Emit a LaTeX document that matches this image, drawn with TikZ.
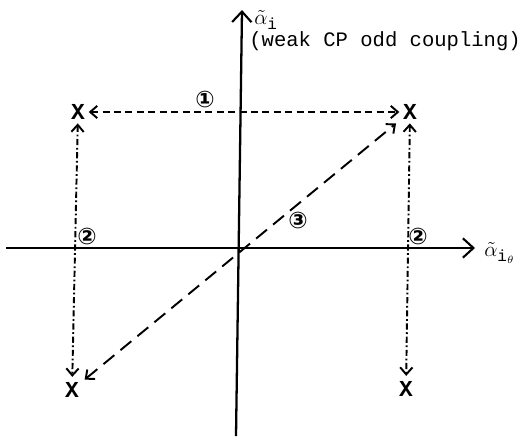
\documentclass[tikz,border=0pt]{standalone}
\usepackage{fontspec}
\setmonofont{Liberation Mono}
\newfontfamily\circfont{DejaVu Sans}
\usetikzlibrary{arrows.meta}
\tikzset{
  axis/.style={line width=1.3pt, -{Straight Barb[length=6pt,width=11pt,line width=1.2pt]}},
  crossmark/.style={inner sep=0pt, font=\ttfamily\bfseries\fontsize{13}{13}\selectfont},
  tip/.style={{Straight Barb[length=4pt,width=7pt,line width=1.1pt]}-{Straight Barb[length=4pt,width=7pt,line width=1.1pt]}},
  lblA/.style={line width=1.1pt, dash pattern=on 4pt off 2.5pt, tip},
  lblB/.style={line width=1.1pt, dash pattern=on 3.5pt off 1.5pt on 1pt off 1.5pt, tip},
  lblC/.style={line width=1.1pt, dash pattern=on 8pt off 4.5pt, tip},
  circnum/.style={font=\circfont\bfseries\fontsize{13}{13}\selectfont, inner sep=0pt},
  axlab/.style={anchor=west, inner sep=0pt, font=\fontsize{13}{15}\selectfont}
}
\begin{document}
\begin{tikzpicture}[x=0.02cm, y=-0.02cm]
  \useasboundingbox (0,0) rectangle (526,439);
  % axes
  \coordinate (xs) at (6,248);
  \coordinate (xe) at (475,248);
  \coordinate (ys) at (236,436);
  \coordinate (ye) at (242,10);
  \draw[axis] (xs) -- (xe);
  \draw[axis] (ys) -- (ye);
  \node[axlab] (ylab) at (254,20) {$\tilde{\alpha}_{\mathtt{i}}$};
  \node[anchor=west, inner sep=0pt, font=\ttfamily\fontsize{11.7}{13}\selectfont] (ynote) at (249,41) {(weak CP odd coupling)};
  \node[axlab] (xlab) at (484,253) {$\tilde{\alpha}_{\mathtt{i}_\theta}$};
  % points
  \node[crossmark] (tl) at (78,112) {X};
  \node[crossmark] (tr) at (410,112) {X};
  \node[crossmark] (bl) at (72,390) {X};
  \node[crossmark] (br) at (406,389) {X};
  % transitions
  \draw[lblA, shorten <=2pt, shorten >=2pt] (tl) -- (tr);
  \draw[lblB, shorten <=2pt, shorten >=3pt] (tl) -- (bl);
  \draw[lblB, shorten <=2pt, shorten >=3pt] (tr) -- (br);
  \draw[lblC, shorten <=4pt, shorten >=5pt] (bl) -- (tr);
  \node[circnum] (n1) at (205,100) {①};
  \node[circnum] (n2a) at (87,236) {②};
  \node[circnum] (n2b) at (418,236) {②};
  \node[circnum] (n3) at (298,220) {③};
\end{tikzpicture}
\end{document}
